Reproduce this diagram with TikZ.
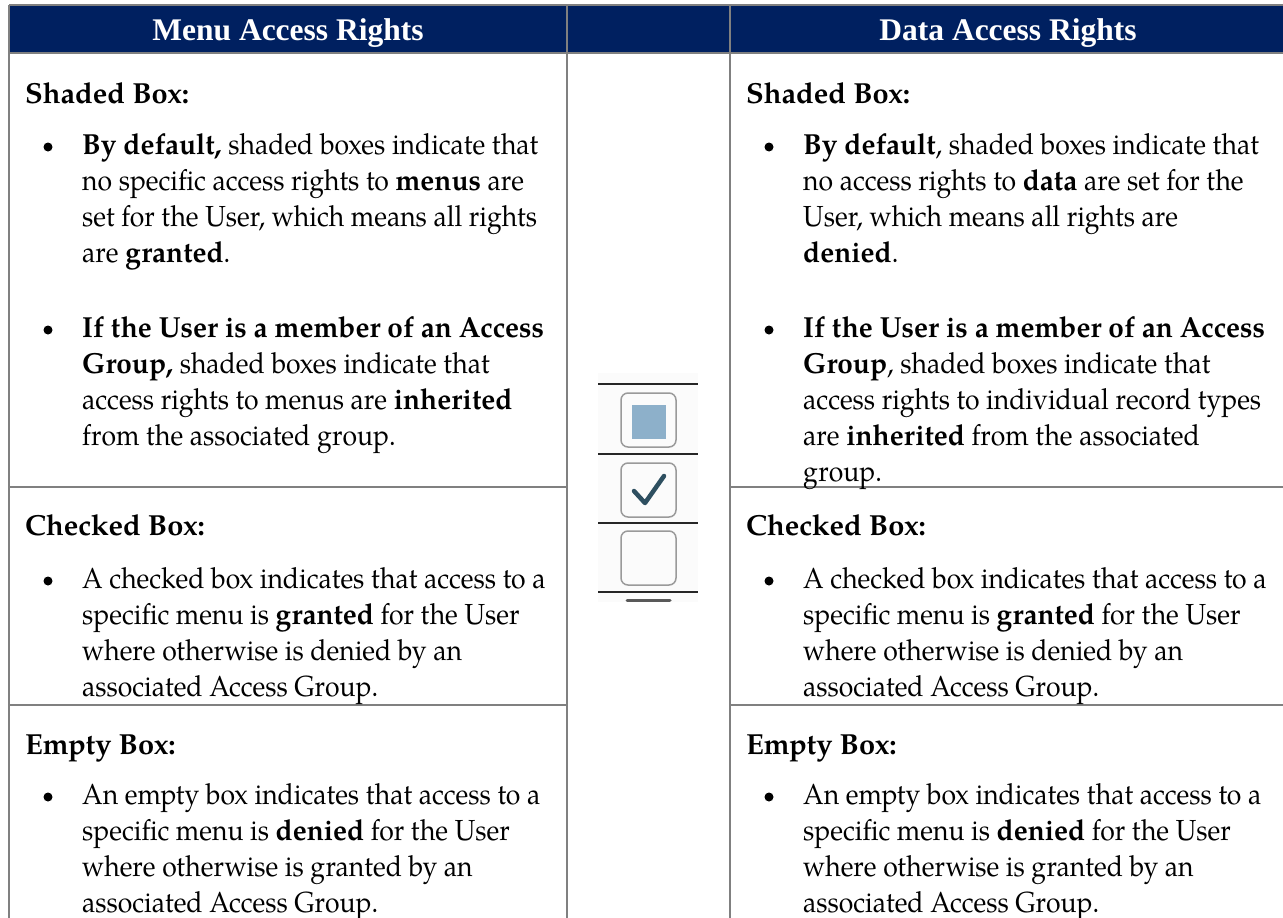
\documentclass[tikz,border=0pt]{standalone}
\usepackage{fontspec}
\setmainfont{texgyrepagella}[Extension=.otf, UprightFont=*-regular, BoldFont=*-bold, ItalicFont=*-italic, BoldItalicFont=*-bolditalic, UprightFeatures={FakeStretch=0.915}, BoldFeatures={FakeStretch=0.965}]
\newfontfamily\headfont{texgyrepagella}[Extension=.otf, UprightFont=*-bold]
\newfontfamily\hdrfont{Liberation Serif}
\definecolor{navy}{HTML}{002060}
\definecolor{gridgray}{HTML}{808080}
\definecolor{boxshade}{HTML}{8DB0CA}
\definecolor{checkcol}{HTML}{2E4F60}
\definecolor{boxedge}{HTML}{9A9A9A}
\newcommand\paralines[4]{%
  \foreach \lntext [count=\k from 0] in {#4}{%
    \node[bodytxt] (#1-\k) at ({#2},{#3+36*\k}) {\lntext};}}
\tikzset{
  gridline/.style={draw=gridgray, line width=1.7pt},
  hdr/.style={anchor=base, inner sep=0pt, text=white, font=\hdrfont\bfseries\fontsize{31.5}{36}\selectfont},
  bodytxt/.style={anchor=base west, inner sep=0pt, font=\fontsize{29}{36}\selectfont},
  headtxt/.style={anchor=base west, inner sep=0pt, font=\headfont\fontsize{29}{36}\selectfont},
  bul/.style={circle, fill=black, inner sep=0pt, minimum size=9pt},
  iconrule/.style={line width=2.8pt, draw=black!85},
  iconbox/.style={draw=boxedge, line width=1.5pt, rounded corners=7pt}
}
\begin{document}
\begin{tikzpicture}[x=1pt,y=-1pt]
\useasboundingbox (0,0) rectangle (1283,918);
\fill[white] (0,0) rectangle (1283,918);
% header band
\fill[navy] (9,5) rectangle (1283,53);
% table rules
\draw[gridline] (9,5) -- (1283,5);
\draw[gridline] (9,53) -- (1283,53);
\draw[gridline] (9,5) -- (9,918);
\draw[gridline] (567,5) -- (567,918);
\draw[gridline] (730,5) -- (730,918);
\draw[gridline] (9,487) -- (567,487);
\draw[gridline] (730,487) -- (1283,487);
\draw[gridline] (9,705) -- (567,705);
\draw[gridline] (730,705) -- (1283,705);
% headers
\node[hdr] (hmenu) at (288,40) {Menu Access Rights};
\node[hdr] (hdata) at (1008,40) {Data Access Rights};

% ---------- left column ----------
\def\lx{82}
\node[headtxt] (ls) at (\lx-57,103) {Shaded Box:};
\node[bul] (lb1) at (\lx-34,147) {};
\paralines{lsa}{\lx}{154}{{\textbf{By default,} shaded boxes indicate that},{no specific access rights to \textbf{menus} are},{set for the User, which means all rights},{are \textbf{granted}.}}
\node[bul] (lb2) at (\lx-34,330) {};
\paralines{lsb}{\lx}{337}{{\textbf{If the User is a member of an Access}},{\textbf{Group,} shaded boxes indicate that},{access rights to menus are \textbf{inherited}},{from the associated group.}}
\node[headtxt] (lc) at (\lx-57,535) {Checked Box:};
\node[bul] (lb3) at (\lx-34,581) {};
\paralines{lca}{\lx}{588}{{A checked box indicates that access to a},{specific menu is \textbf{granted} for the User},{where otherwise is denied by an},{associated Access Group.}}
\node[headtxt] (le) at (\lx-57,754) {Empty Box:};
\node[bul] (lb4) at (\lx-34,797) {};
\paralines{lea}{\lx}{804}{{An empty box indicates that access to a},{specific menu is \textbf{denied} for the User},{where otherwise is granted by an},{associated Access Group.}}

% ---------- right column ----------
\def\rx{803}
\node[headtxt] (rs) at (\rx-57,103) {Shaded Box:};
\node[bul] (rb1) at (\rx-34,147) {};
\paralines{rsa}{\rx}{154}{{\textbf{By default}, shaded boxes indicate that},{no access rights to \textbf{data} are set for the},{User, which means all rights are},{\textbf{denied}.}}
\node[bul] (rb2) at (\rx-34,330) {};
\paralines{rsb}{\rx}{337}{{\textbf{If the User is a member of an Access}},{\textbf{Group}, shaded boxes indicate that},{access rights to individual record types},{are \textbf{inherited} from the associated},{group.}}
\node[headtxt] (rc) at (\rx-57,535) {Checked Box:};
\node[bul] (rb3) at (\rx-34,581) {};
\paralines{rca}{\rx}{588}{{A checked box indicates that access to a},{specific menu is \textbf{granted} for the User},{where otherwise is denied by an},{associated Access Group.}}
\node[headtxt] (re) at (\rx-57,754) {Empty Box:};
\node[bul] (rb4) at (\rx-34,797) {};
\paralines{rea}{\rx}{804}{{An empty box indicates that access to a},{specific menu is \textbf{denied} for the User},{where otherwise is granted by an},{associated Access Group.}}

% ---------- checkbox icon ----------
\fill[white!97!gray] (598,373) rectangle (698,602);
\foreach \yy in {384,454,523,592}{\draw[iconrule] (598,\yy) -- (698,\yy);}
\draw[iconbox] (621,393) rectangle (676,447);
\fill[boxshade] (632,405) rectangle (666,439);
\draw[iconbox] (621,463) rectangle (676,517);
\draw[draw=checkcol, line width=4.5pt, line cap=round, line join=round] (634,491) -- (645,503) -- (664,476);
\draw[iconbox] (621,531) rectangle (676,585);
\draw[line width=3pt, draw=black!65, line cap=round] (627,600) -- (670,600);
\end{tikzpicture}
\end{document}
